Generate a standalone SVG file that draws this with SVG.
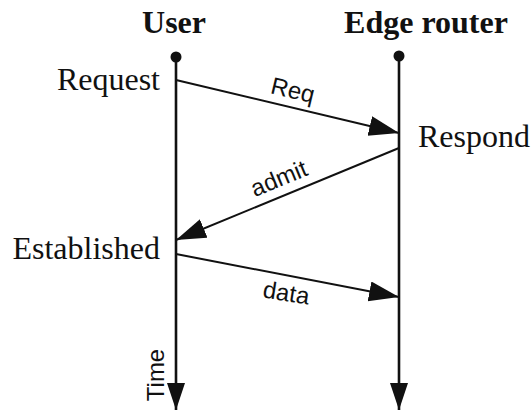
<svg xmlns="http://www.w3.org/2000/svg" width="532" height="410" viewBox="0 0 532 410">
<defs>
<style>
.serif{font-family:"Liberation Serif","Times New Roman",serif;font-size:32px;fill:#111}
.head{font-weight:bold}
.sans{font-family:"Liberation Sans",Arial,sans-serif;font-size:24px;fill:#111}
.life{stroke:#111;stroke-width:2.6;fill:none}
.msg{stroke:#111;stroke-width:2;fill:none}
</style>
<marker id="ah" markerUnits="userSpaceOnUse" markerWidth="32" markerHeight="22" refX="30" refY="10" orient="auto">
<path d="M0,0 L30,10 L0,20 z" fill="#111"/>
</marker>
<marker id="lh" markerUnits="userSpaceOnUse" markerWidth="28" markerHeight="20" refX="27" refY="9" orient="auto">
<path d="M0,0 L27,9 L0,18 z" fill="#111"/>
</marker>
</defs>
<rect width="532" height="410" fill="#fff"/>
<g id="user">
<text class="serif head" x="174" y="33" text-anchor="middle">User</text>
<circle cx="176" cy="57" r="5.5" fill="#111"/>
<text class="serif" x="160" y="90" text-anchor="end">Request</text>
<text class="serif" x="160" y="259" text-anchor="end">Established</text>
<text class="sans" transform="translate(164,375) rotate(-90)" text-anchor="middle" font-size="26">Time</text>
</g>
<g id="edge-router">
<text class="serif head" x="426" y="33" text-anchor="middle">Edge router</text>
<circle cx="399" cy="56" r="5.5" fill="#111"/>
<text class="serif" x="418" y="147">Respond</text>
</g>
<g id="connectors">
<line class="life" x1="176" y1="57" x2="176" y2="410" marker-end="url(#lh)"/>
<line class="life" x1="399" y1="56" x2="399" y2="410" marker-end="url(#lh)"/>
<line class="msg" x1="176" y1="80" x2="399" y2="133" marker-end="url(#ah)"/>
<line class="msg" x1="399" y1="148" x2="176" y2="240" marker-end="url(#ah)"/>
<line class="msg" x1="176" y1="254" x2="399" y2="297" marker-end="url(#ah)"/>
<text class="sans" transform="translate(291,98) rotate(13.4)" text-anchor="middle">Req</text>
<text class="sans" transform="translate(282,186) rotate(-22.4)" text-anchor="middle">admit</text>
<text class="sans" transform="translate(285,301) rotate(9)" text-anchor="middle">data</text>
</g>
</svg>
